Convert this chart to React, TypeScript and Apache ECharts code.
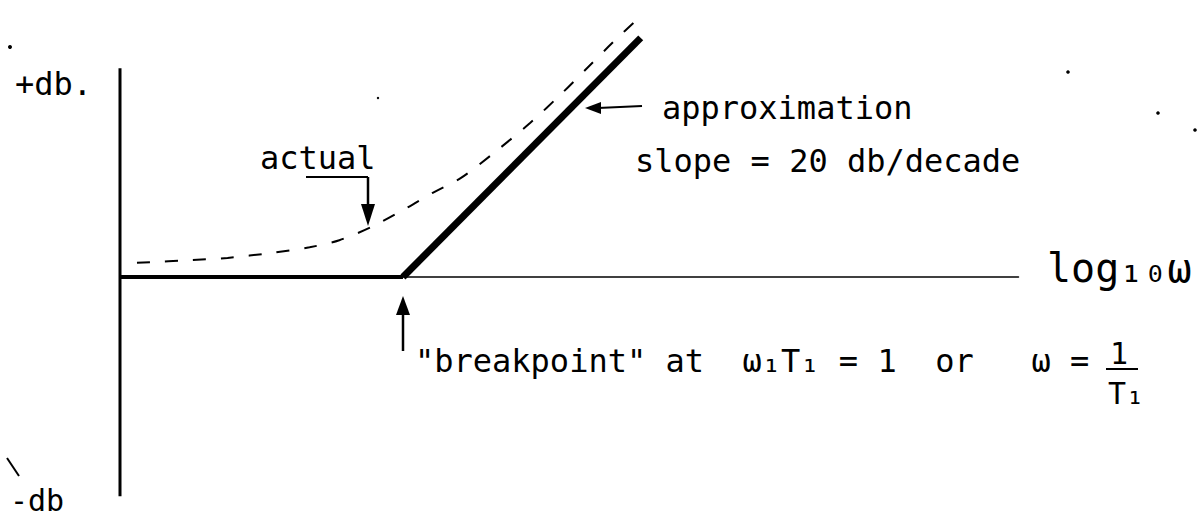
import React, { useEffect, useRef } from "react";
import * as echarts from "echarts";

// x = log10(ω·T1) in decades, y = gain in dB
const approxLogW = [-2, 0, 1.68];
const approxDb = [0, 0, 33.8];

const actualLogW = [-1.88, -1.49, -1.24, -0.93, -0.66, -0.45, -0.22, 0.03, 0.21, 0.41, 0.64, 0.9, 1.13, 1.3, 1.48, 1.67];
const actualDb = [2.0, 2.4, 2.7, 3.4, 4.2, 5.2, 7.1, 9.8, 11.9, 14.0, 17.5, 21.8, 26.1, 29.5, 33.1, 36.7];

const dbAxisLogW = [-2, -2];
const dbAxisDb = [-31, 29.5];

const X_MIN = -2;
const X_MAX = 4.35;
const Y_MIN = -31;
const Y_MAX = 38;

const FONT = "'DejaVu Sans Mono', monospace";

function pairs(xs: number[], ys: number[]) {
  return xs.map((x, i) => [x, ys[i]]);
}

function txt(text: string, x: number, y: number, size = 32, align = "left") {
  return {
    type: "text",
    x,
    y,
    silent: true,
    style: {
      text,
      fill: "#000",
      fontSize: size,
      fontFamily: FONT,
      align,
      verticalAlign: "middle",
    },
  };
}

function seg(x1: number, y1: number, x2: number, y2: number, w = 2) {
  return {
    type: "line",
    silent: true,
    shape: { x1, y1, x2, y2 },
    style: { stroke: "#000", lineWidth: w },
  };
}

function head(points: number[][]) {
  return { type: "polygon", silent: true, shape: { points }, style: { fill: "#000" } };
}

function dot(cx: number, cy: number, r = 1.5) {
  return { type: "circle", silent: true, shape: { cx, cy, r }, style: { fill: "#000" } };
}

export default function App() {
  const ref = useRef<HTMLDivElement>(null);

  useEffect(() => {
    if (!ref.current) return;
    const chart = echarts.init(ref.current, null, { renderer: "svg" });
    const option = {
      animation: false,
      backgroundColor: "#fff",
      grid: { left: 120, right: 182.5, top: 8.15, bottom: 21.7, containLabel: false },
      xAxis: {
        type: "value",
        min: X_MIN,
        max: X_MAX,
        axisLine: { show: true, onZero: true, lineStyle: { color: "#000", width: 1.5 } },
        axisTick: { show: false },
        axisLabel: { show: false },
        splitLine: { show: false },
      },
      yAxis: {
        type: "value",
        min: Y_MIN,
        max: Y_MAX,
        axisLine: { show: false },
        axisTick: { show: false },
        axisLabel: { show: false },
        splitLine: { show: false },
      },
      series: [
        {
          name: "dB axis",
          type: "line",
          data: pairs(dbAxisLogW, dbAxisDb),
          symbol: "none",
          lineStyle: { color: "#000", width: 3 },
          silent: true,
        },
        {
          name: "approximation (flat)",
          type: "line",
          data: pairs(approxLogW.slice(0, 2), approxDb.slice(0, 2)),
          symbol: "none",
          lineStyle: { color: "#000", width: 4 },
          silent: true,
        },
        {
          name: "approximation (slope)",
          type: "line",
          data: pairs(approxLogW.slice(1), approxDb.slice(1)),
          symbol: "none",
          lineStyle: { color: "#000", width: 7 },
          silent: true,
        },
        {
          name: "actual",
          type: "line",
          data: pairs(actualLogW, actualDb),
          symbol: "none",
          smooth: 0.3,
          lineStyle: { color: "#000", width: 2, type: [13, 15] },
          silent: true,
        },
      ],
      graphic: [
        dot(10, 47, 2),
        txt("+db.", 15, 84),
        seg(7, 458, 19, 476, 2),
        txt("-db", 10, 500, 30),
        txt("actual", 260, 158),
        seg(306, 177, 368, 177, 2),
        seg(368, 177, 368, 210, 2.5),
        head([[368, 226], [361, 204], [375, 204]]),
        dot(378, 98, 1.2),
        txt("approximation", 662, 108),
        txt("slope = 20 db/decade", 635, 161),
        seg(598, 108, 642, 106, 2),
        head([[585, 108], [601, 102], [601, 114]]),
        dot(1068, 72, 1.8),
        dot(1158, 113, 1.8),
        dot(1195, 130, 1.8),
        txt("log₁₀ω", 1047, 268, 40),
        seg(403, 351, 403, 312, 2.5),
        head([[403, 296], [396, 315], [410, 315]]),
        txt('"breakpoint" at  ω₁T₁ = 1  or   ω =', 415, 361),
        txt("1", 1119, 353, 30, "center"),
        seg(1106, 369, 1138, 369, 2),
        txt("T₁", 1126, 393, 30, "center"),
      ],
    };
    chart.setOption(option as any);
    return () => chart.dispose();
  }, []);

  return (
    <div
      ref={ref}
      style={{ position: "absolute", left: 0, top: 0, width: 1201, height: 518, background: "#fff" }}
    />
  );
}
